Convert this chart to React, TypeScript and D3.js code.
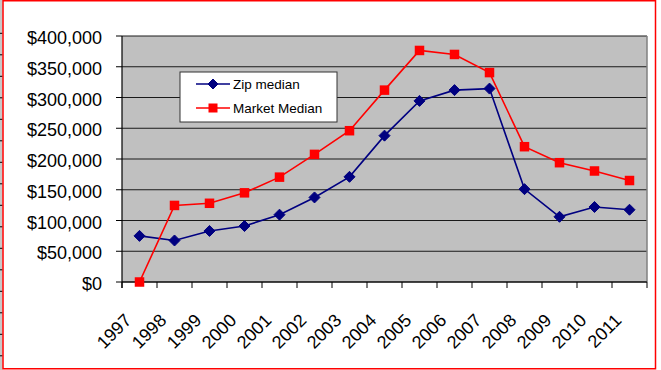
import React from "react";
import * as d3 from "d3";

// Years on the category axis
const years: string[] = [
  "1997", "1998", "1999", "2000", "2001", "2002", "2003", "2004",
  "2005", "2006", "2007", "2008", "2009", "2010", "2011",
];

// Median sale prices per year
const zipMedian: number[] = [
  75000, 67500, 83000, 91000, 109500, 137500, 171000, 238000,
  294500, 312000, 314500, 151000, 106000, 122000, 117500,
];
const marketMedian: number[] = [
  0, 124500, 128000, 145000, 170500, 207500, 246000, 312000,
  376500, 370000, 340500, 220000, 194000, 180500, 165000,
];

const yTicks: number[] = [0, 50000, 100000, 150000, 200000, 250000, 300000, 350000, 400000];

const seriesNames: string[] = ["Zip median", "Market Median"];

const W = 661;
const H = 370;
const FONT = "'Liberation Sans', Arial, Helvetica, sans-serif";

const plot = { left: 122, right: 647, top: 36, bottom: 282 };

const x = d3.scaleBand<string>().domain(years).range([plot.left, plot.right]).padding(0);
const y = d3.scaleLinear().domain([0, 400000]).range([plot.bottom, plot.top]);

const cx = (i: number) => (x(years[i]) as number) + x.bandwidth() / 2;

const line = d3
  .line<number>()
  .x((_, i) => cx(i))
  .y((d) => y(d));

const fmt = (v: number) => "$" + d3.format(",")(v);

const NAVY = "#000080";
const RED = "#ff0000";

function Diamond({ x0, y0, r }: { x0: number; y0: number; r: number }) {
  return (
    <path
      d={`M${x0},${y0 - r}L${x0 + r},${y0}L${x0},${y0 + r}L${x0 - r},${y0}Z`}
      fill={NAVY}
      stroke={NAVY}
      strokeWidth={1}
    />
  );
}

function Square({ x0, y0, s }: { x0: number; y0: number; s: number }) {
  return <rect x={x0 - s / 2} y={y0 - s / 2} width={s} height={s} fill={RED} />;
}

// spreadsheet row lines peeking in at the far left edge
const rowLines = d3.range(16).map((i) => 33.3 + i * 21.5);

export default function App() {
  const xTickPositions = d3.range(years.length + 1).map((i) => plot.left + i * x.bandwidth());
  const legend = { x: 180, y: 72, w: 157, h: 50 };

  return (
    <svg
      width={W}
      height={H}
      viewBox={`0 0 ${W} ${H}`}
      style={{ position: "absolute", left: 0, top: 0, background: "#ffffff" }}
      fontFamily={FONT}
    >
      {/* left edge strip */}
      <rect x={0} y={0} width={2.5} height={H} fill="#c8c8c8" />
      {rowLines.map((ry, i) => (
        <line key={i} x1={0} x2={2.5} y1={ry} y2={ry} stroke="#000" strokeWidth={1} />
      ))}

      {/* chart frame */}
      <rect x={3} y={0.75} width={652.5} height={368} fill="#ffffff" stroke={RED} strokeWidth={1.5} />

      {/* plot area */}
      <rect
        x={plot.left}
        y={plot.top}
        width={plot.right - plot.left}
        height={plot.bottom - plot.top}
        fill="#c0c0c0"
      />
      {yTicks.map((t) => (
        <line
          key={t}
          x1={plot.left}
          x2={plot.right}
          y1={y(t)}
          y2={y(t)}
          stroke="#1a1a1a"
          strokeWidth={1}
        />
      ))}
      <line x1={plot.right} x2={plot.right} y1={plot.top} y2={plot.bottom} stroke="#808080" strokeWidth={1.5} />

      {/* y axis */}
      <line x1={plot.left} x2={plot.left} y1={plot.top} y2={plot.bottom + 6} stroke="#000" strokeWidth={1.2} />
      {yTicks.map((t) => (
        <g key={t}>
          <line x1={plot.left - 6} x2={plot.left} y1={y(t)} y2={y(t)} stroke="#000" strokeWidth={1} />
          <text x={102} y={y(t)} dy="0.45em" textAnchor="end" fontSize={18} fill="#000">
            {fmt(t)}
          </text>
        </g>
      ))}

      {/* x axis */}
      <line x1={plot.left} x2={plot.right} y1={plot.bottom} y2={plot.bottom} stroke="#000" strokeWidth={1.2} />
      {xTickPositions.map((tx, i) => (
        <line key={i} x1={tx} x2={tx} y1={plot.bottom} y2={plot.bottom + 6} stroke="#000" strokeWidth={1} />
      ))}
      {years.map((yr, i) => {
        const ax = cx(i) - 7;
        const ay = plot.bottom + 39.5;
        return (
          <text
            key={yr}
            x={ax}
            y={ay}
            textAnchor="end"
            fontSize={18}
            fill="#000"
            transform={`rotate(-45 ${ax} ${ay})`}
          >
            {yr}
          </text>
        );
      })}

      {/* series */}
      <path d={line(zipMedian) ?? ""} fill="none" stroke={NAVY} strokeWidth={1.6} />
      <path d={line(marketMedian) ?? ""} fill="none" stroke={RED} strokeWidth={1.6} />
      {zipMedian.map((v, i) => (
        <Diamond key={i} x0={cx(i)} y0={y(v)} r={5.5} />
      ))}
      {marketMedian.map((v, i) => (
        <Square key={i} x0={cx(i)} y0={y(v)} s={9.5} />
      ))}

      {/* legend */}
      <rect
        x={legend.x}
        y={legend.y}
        width={legend.w}
        height={legend.h}
        fill="#ffffff"
        stroke="#333"
        strokeWidth={1}
      />
      {seriesNames.map((name, i) => {
        const ly = legend.y + 12 + i * 24;
        const color = i === 0 ? NAVY : RED;
        return (
          <g key={name}>
            <line x1={196} x2={230} y1={ly} y2={ly} stroke={color} strokeWidth={1.6} />
            {i === 0 ? <Diamond x0={213} y0={ly} r={5} /> : <Square x0={213} y0={ly} s={9} />}
            <text x={233} y={ly} dy="0.36em" fontSize={13.5} fill="#000">
              {name}
            </text>
          </g>
        );
      })}
    </svg>
  );
}
